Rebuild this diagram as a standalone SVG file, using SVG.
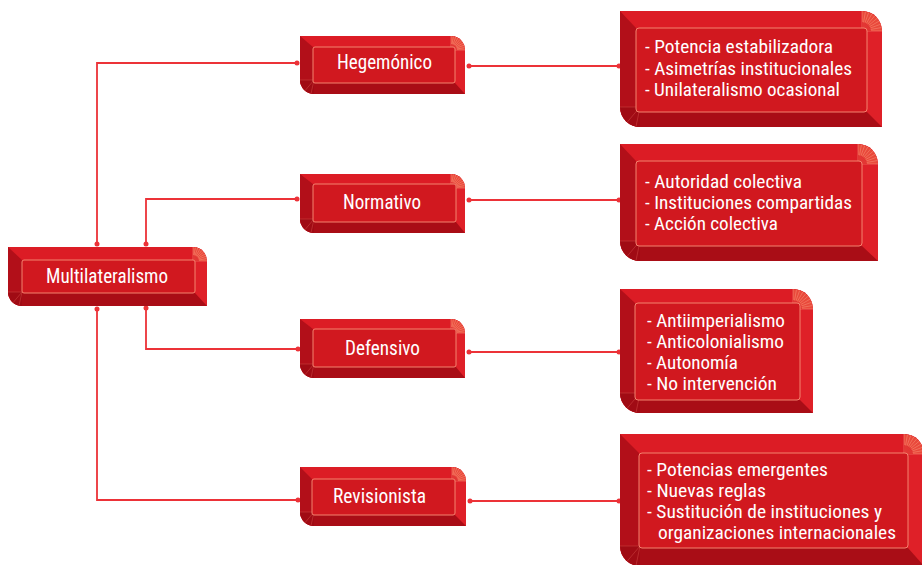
<svg xmlns="http://www.w3.org/2000/svg" xmlns:xlink="http://www.w3.org/1999/xlink" width="922" height="565" viewBox="0 0 922 565">
<style>
.base{fill:#df2028}
.top{fill:#dc1c25}
.lft{fill:#b20f19}
.bot{fill:#a90d16}
.face{fill:#d1181f;stroke:#f3836f;stroke-width:1}
.ray{stroke:#f8967c;stroke-width:0.5;fill:none}
.dray{stroke:#c9403e;stroke-width:0.6;fill:none}
.txt{font-family:"Liberation Sans Narrow","Roboto Condensed","Liberation Sans",Arial,sans-serif;font-size:20px;fill:#ffffff}
.sm{font-size:18.5px}
.mid{text-anchor:middle}
.con{fill:none;stroke:#ec3238;stroke-width:1.8}
.dot{fill:#ec3238}
</style>
<defs>
<g id="tr14">
<path d="M0,0 L14,0 A14,14 0 0 0 0,-14 Z" fill="#e9493b"/>
<path class="ray" d="M0,0L14,0M0,0L13.8,-2.4M0,0L13.2,-4.8M0,0L12.1,-7M0,0L10.7,-9M0,0L9,-10.7M0,0L7,-12.1M0,0L4.8,-13.2M0,0L2.4,-13.8M0,0L0,-14"/>
<path d="M0,0 L6,0 A6,6 0 0 0 0,-6 Z" fill="#de2a2c" opacity="0.8"/>
</g>
<g id="tr20">
<path d="M0,0 L20,0 A20,20 0 0 0 0,-20 Z" fill="#e9493b"/>
<path class="ray" d="M0,0L20,0M0,0L19.7,-3.5M0,0L18.8,-6.8M0,0L17.3,-10M0,0L15.3,-12.9M0,0L12.9,-15.3M0,0L10,-17.3M0,0L6.8,-18.8M0,0L3.5,-19.7M0,0L0,-20"/>
<path d="M0,0 L9,0 A9,9 0 0 0 0,-9 Z" fill="#de2a2c" opacity="0.8"/>
</g>
<g id="bl14">
<path d="M0,0 L-14,0 A14,14 0 0 0 0,14 Z" fill="#a00b14"/>
<path class="dray" d="M0,0L-14,0M0,0L-9,10.7M0,0L-3,13.7"/>
</g>
<g id="bl20">
<path d="M0,0 L-20,0 A20,20 0 0 0 0,20 Z" fill="#a00b14"/>
<path class="dray" d="M0,0L-20,0M0,0L-12.9,15.3M0,0L-4,19.6"/>
</g>
<clipPath id="cm"><path d="M8,247 H193 A14,14 0 0 1 207,261 V306 H22 A14,14 0 0 1 8,292 Z"/></clipPath>
<clipPath id="ch"><path d="M300,36 H451 A14,14 0 0 1 465,50 V94 H314 A14,14 0 0 1 300,80 Z"/></clipPath>
<clipPath id="cn"><path d="M300,174 H451 A14,14 0 0 1 465,188 V233 H314 A14,14 0 0 1 300,219 Z"/></clipPath>
<clipPath id="cd"><path d="M300,319 H451 A14,14 0 0 1 465,333 V378 H314 A14,14 0 0 1 300,364 Z"/></clipPath>
<clipPath id="cr"><path d="M300,467 H452 A14,14 0 0 1 466,481 V526 H314 A14,14 0 0 1 300,512 Z"/></clipPath>
<clipPath id="c1"><path d="M620,11 H862 A20,20 0 0 1 882,31 V127 H640 A20,20 0 0 1 620,107 Z"/></clipPath>
<clipPath id="c2"><path d="M620,144 H858 A20,20 0 0 1 878,164 V261 H640 A20,20 0 0 1 620,241 Z"/></clipPath>
<clipPath id="c3"><path d="M620,289 H793 A20,20 0 0 1 813,309 V413 H640 A20,20 0 0 1 620,393 Z"/></clipPath>
<clipPath id="c4"><path d="M620,434 H904 A20,20 0 0 1 924,454 V566 H640 A20,20 0 0 1 620,546 Z"/></clipPath>
</defs>

<g id="connectors">
<path class="con" d="M97,245 V63 H297"/>
<path class="con" d="M146,245 V199 H297"/>
<path class="con" d="M146,308 V349 H298"/>
<path class="con" d="M97,308 V500 H298"/>
<path class="con" d="M469,66 H619"/>
<path class="con" d="M469,200 H619"/>
<path class="con" d="M469,352 H619"/>
<path class="con" d="M470,501 H619"/>
<circle class="dot" cx="97" cy="244" r="2.5"/><circle class="dot" cx="297" cy="63" r="2.5"/>
<circle class="dot" cx="146" cy="244" r="2.5"/><circle class="dot" cx="297" cy="199" r="2.5"/>
<circle class="dot" cx="146" cy="308" r="2.5"/><circle class="dot" cx="298" cy="349" r="2.5"/>
<circle class="dot" cx="97" cy="309" r="2.5"/><circle class="dot" cx="298" cy="500" r="2.5"/>
<circle class="dot" cx="469" cy="66" r="2.5"/><circle class="dot" cx="619" cy="66" r="2.5"/>
<circle class="dot" cx="469" cy="200" r="2.5"/><circle class="dot" cx="619" cy="200" r="2.5"/>
<circle class="dot" cx="469" cy="352" r="2.5"/><circle class="dot" cx="619" cy="352" r="2.5"/>
<circle class="dot" cx="470" cy="501" r="2.5"/><circle class="dot" cx="619" cy="501" r="2.5"/>
</g>

<g id="multilateralismo">
<path class="base" d="M8,247 H193 A14,14 0 0 1 207,261 V306 H22 A14,14 0 0 1 8,292 Z"/>
<g clip-path="url(#cm)">
<polygon class="top" points="8,247 207,247 195,260 22,260"/>
<polygon class="lft" points="8,247 22,260 22,293 8,306"/>
<polygon class="bot" points="8,306 22,293 195,293 207,306"/>
<use xlink:href="#tr14" x="193" y="261"/>
<use xlink:href="#bl14" x="22" y="292"/>
</g>
<rect class="face" x="22" y="260" width="173" height="33" rx="2"/>
<text class="txt mid" x="107" y="283" textLength="122" lengthAdjust="spacingAndGlyphs">Multilateralismo</text>
</g>

<g id="hegemonico">
<path class="base" d="M300,36 H451 A14,14 0 0 1 465,50 V94 H314 A14,14 0 0 1 300,80 Z"/>
<g clip-path="url(#ch)">
<polygon class="top" points="300,36 465,36 455,47 313,47"/>
<polygon class="lft" points="300,36 313,47 313,83 300,94"/>
<polygon class="bot" points="300,94 313,83 455,83 465,94"/>
<use xlink:href="#tr14" x="451" y="50"/>
<use xlink:href="#bl14" x="314" y="80"/>
</g>
<rect class="face" x="313" y="47" width="142" height="36" rx="2"/>
<text class="txt mid" x="384.5" y="69" textLength="95" lengthAdjust="spacingAndGlyphs">Hegemónico</text>
</g>

<g id="normativo">
<path class="base" d="M300,174 H451 A14,14 0 0 1 465,188 V233 H314 A14,14 0 0 1 300,219 Z"/>
<g clip-path="url(#cn)">
<polygon class="top" points="300,174 465,174 456,184 313,184"/>
<polygon class="lft" points="300,174 313,184 313,222 300,233"/>
<polygon class="bot" points="300,233 313,222 456,222 465,233"/>
<use xlink:href="#tr14" x="451" y="188"/>
<use xlink:href="#bl14" x="314" y="219"/>
</g>
<rect class="face" x="313" y="184" width="143" height="38" rx="2"/>
<text class="txt mid" x="382" y="209" textLength="78" lengthAdjust="spacingAndGlyphs">Normativo</text>
</g>

<g id="defensivo">
<path class="base" d="M300,319 H451 A14,14 0 0 1 465,333 V378 H314 A14,14 0 0 1 300,364 Z"/>
<g clip-path="url(#cd)">
<polygon class="top" points="300,319 465,319 456,329 313,329"/>
<polygon class="lft" points="300,319 313,329 313,367 300,378"/>
<polygon class="bot" points="300,378 313,367 456,367 465,378"/>
<use xlink:href="#tr14" x="451" y="333"/>
<use xlink:href="#bl14" x="314" y="364"/>
</g>
<rect class="face" x="313" y="329" width="143" height="38" rx="2"/>
<text class="txt mid" x="382.5" y="355" textLength="75" lengthAdjust="spacingAndGlyphs">Defensivo</text>
</g>

<g id="revisionista">
<path class="base" d="M300,467 H452 A14,14 0 0 1 466,481 V526 H314 A14,14 0 0 1 300,512 Z"/>
<g clip-path="url(#cr)">
<polygon class="top" points="300,467 466,467 455,479 312,479"/>
<polygon class="lft" points="300,467 312,479 312,515 300,526"/>
<polygon class="bot" points="300,526 312,515 455,515 466,526"/>
<use xlink:href="#tr14" x="452" y="481"/>
<use xlink:href="#bl14" x="314" y="512"/>
</g>
<rect class="face" x="312" y="479" width="143" height="36" rx="2"/>
<text class="txt mid" x="379.5" y="503" textLength="93" lengthAdjust="spacingAndGlyphs">Revisionista</text>
</g>

<g id="hegemonico-detalle">
<path class="base" d="M620,11 H862 A20,20 0 0 1 882,31 V127 H640 A20,20 0 0 1 620,107 Z"/>
<g clip-path="url(#c1)">
<polygon class="top" points="620,11 882,11 867,28 636,28"/>
<polygon class="lft" points="620,11 636,28 636,112 620,127"/>
<polygon class="bot" points="620,127 636,112 867,112 882,127"/>
<use xlink:href="#tr20" x="862" y="31"/>
<use xlink:href="#bl20" x="640" y="107"/>
</g>
<rect class="face" x="636" y="28" width="231" height="84" rx="3"/>
<text class="txt sm" x="645" y="53" textLength="188" lengthAdjust="spacingAndGlyphs">- Potencia estabilizadora</text>
<text class="txt sm" x="645" y="75" textLength="207" lengthAdjust="spacingAndGlyphs">- Asimetrías institucionales</text>
<text class="txt sm" x="645" y="96" textLength="195" lengthAdjust="spacingAndGlyphs">- Unilateralismo ocasional</text>
</g>

<g id="normativo-detalle">
<path class="base" d="M620,144 H858 A20,20 0 0 1 878,164 V261 H640 A20,20 0 0 1 620,241 Z"/>
<g clip-path="url(#c2)">
<polygon class="top" points="620,144 878,144 862,161 636,161"/>
<polygon class="lft" points="620,144 636,161 636,246 620,261"/>
<polygon class="bot" points="620,261 636,246 862,246 878,261"/>
<use xlink:href="#tr20" x="858" y="164"/>
<use xlink:href="#bl20" x="640" y="241"/>
</g>
<rect class="face" x="636" y="161" width="226" height="85" rx="3"/>
<text class="txt sm" x="645" y="188" textLength="157" lengthAdjust="spacingAndGlyphs">- Autoridad colectiva</text>
<text class="txt sm" x="645" y="209" textLength="207" lengthAdjust="spacingAndGlyphs">- Instituciones compartidas</text>
<text class="txt sm" x="645" y="230" textLength="133" lengthAdjust="spacingAndGlyphs">- Acción colectiva</text>
</g>

<g id="defensivo-detalle">
<path class="base" d="M620,289 H793 A20,20 0 0 1 813,309 V413 H640 A20,20 0 0 1 620,393 Z"/>
<g clip-path="url(#c3)">
<polygon class="top" points="620,289 813,289 800,303 635,303"/>
<polygon class="lft" points="620,289 635,303 635,400 620,413"/>
<polygon class="bot" points="620,413 635,400 800,400 813,413"/>
<use xlink:href="#tr20" x="793" y="309"/>
<use xlink:href="#bl20" x="640" y="393"/>
</g>
<rect class="face" x="635" y="303" width="165" height="97" rx="3"/>
<text class="txt sm" x="647" y="327" textLength="138" lengthAdjust="spacingAndGlyphs">- Antiimperialismo</text>
<text class="txt sm" x="647" y="348" textLength="137" lengthAdjust="spacingAndGlyphs">- Anticolonialismo</text>
<text class="txt sm" x="647" y="369" textLength="91" lengthAdjust="spacingAndGlyphs">- Autonomía</text>
<text class="txt sm" x="647" y="390" textLength="130" lengthAdjust="spacingAndGlyphs">- No intervención</text>
</g>

<g id="revisionista-detalle">
<path class="base" d="M620,434 H904 A20,20 0 0 1 924,454 V566 H640 A20,20 0 0 1 620,546 Z"/>
<g clip-path="url(#c4)">
<polygon class="top" points="620,434 924,434 908,453 639,453"/>
<polygon class="lft" points="620,434 639,453 639,548 620,566"/>
<polygon class="bot" points="620,566 639,548 908,548 924,566"/>
<use xlink:href="#tr20" x="904" y="454"/>
<use xlink:href="#bl20" x="640" y="546"/>
</g>
<rect class="face" x="639" y="453" width="269" height="95" rx="3"/>
<text class="txt sm" x="647" y="476" textLength="181" lengthAdjust="spacingAndGlyphs">- Potencias emergentes</text>
<text class="txt sm" x="647" y="497" textLength="119" lengthAdjust="spacingAndGlyphs">- Nuevas reglas</text>
<text class="txt sm" x="647" y="518" textLength="235" lengthAdjust="spacingAndGlyphs">- Sustitución de instituciones y</text>
<text class="txt sm" x="658" y="539" textLength="238" lengthAdjust="spacingAndGlyphs">organizaciones internacionales</text>
</g>
</svg>
